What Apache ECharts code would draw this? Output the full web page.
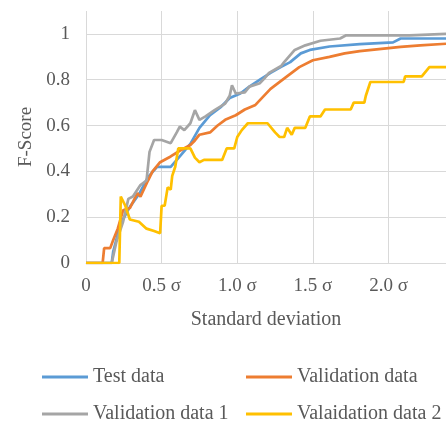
<!DOCTYPE html>
<html>
<head>
<meta charset="utf-8">
<script src="https://cdn.jsdelivr.net/npm/echarts@6/dist/echarts.min.js"></script>
<style>
  html, body { margin: 0; padding: 0; background: #fff; }
  #chart { width: 446px; height: 421px; }
</style>
</head>
<body>
<div id="chart"></div>
<script>
// [standard deviation, F-score]
var testData = [
  [0, 0], [0.17, 0], [0.18, 0.05], [0.22, 0.15], [0.245, 0.19], [0.29, 0.245], [0.35, 0.30],
  [0.41, 0.375], [0.47, 0.42], [0.56, 0.42], [0.62, 0.465], [0.69, 0.52], [0.75, 0.59],
  [0.82, 0.645], [0.89, 0.68], [0.95, 0.72], [1.02, 0.74], [1.08, 0.77], [1.15, 0.80],
  [1.22, 0.83], [1.29, 0.856], [1.35, 0.877], [1.42, 0.915], [1.48, 0.93], [1.61, 0.945],
  [1.81, 0.955], [2.03, 0.963], [2.08, 0.98], [2.38, 0.98]
];
var validData = [
  [0, 0], [0.11, 0], [0.12, 0.065], [0.16, 0.065], [0.18, 0.10], [0.21, 0.15], [0.245, 0.23],
  [0.29, 0.24], [0.34, 0.305], [0.36, 0.29], [0.41, 0.36], [0.44, 0.40], [0.49, 0.44],
  [0.56, 0.465], [0.62, 0.49], [0.69, 0.515], [0.72, 0.535], [0.75, 0.56], [0.82, 0.57],
  [0.87, 0.60], [0.92, 0.625], [0.99, 0.645], [1.05, 0.67], [1.12, 0.69], [1.17, 0.725],
  [1.22, 0.76], [1.32, 0.81], [1.41, 0.855], [1.50, 0.885], [1.61, 0.90], [1.71, 0.915],
  [1.81, 0.925], [2.08, 0.943], [2.21, 0.95], [2.38, 0.957]
];
var validData1 = [
  [0, 0], [0.17, 0], [0.20, 0.09], [0.245, 0.18], [0.28, 0.28], [0.31, 0.29], [0.36, 0.34],
  [0.40, 0.36], [0.42, 0.485], [0.45, 0.537], [0.50, 0.537], [0.56, 0.523], [0.60, 0.57],
  [0.62, 0.595], [0.65, 0.58], [0.69, 0.61], [0.72, 0.667], [0.75, 0.625], [0.79, 0.64],
  [0.85, 0.667], [0.92, 0.696], [0.95, 0.73], [0.965, 0.776], [0.99, 0.74], [1.05, 0.745],
  [1.08, 0.77], [1.15, 0.785], [1.18, 0.806], [1.21, 0.83], [1.29, 0.86], [1.31, 0.877],
  [1.38, 0.93], [1.45, 0.95], [1.55, 0.97], [1.68, 0.98], [1.72, 0.994], [2.14, 0.994],
  [2.15, 1.0], [2.38, 1.0]
];
var validData2 = [
  [0, 0], [0.22, 0], [0.23, 0.29], [0.26, 0.25], [0.29, 0.19], [0.35, 0.18], [0.40, 0.15],
  [0.45, 0.14], [0.49, 0.13], [0.50, 0.25], [0.52, 0.25], [0.54, 0.33], [0.56, 0.32],
  [0.57, 0.38], [0.59, 0.42], [0.61, 0.50], [0.69, 0.50], [0.72, 0.46], [0.75, 0.44],
  [0.78, 0.45], [0.90, 0.45], [0.93, 0.50], [0.98, 0.50], [1.00, 0.55], [1.03, 0.58],
  [1.07, 0.61], [1.20, 0.61], [1.25, 0.57], [1.28, 0.55], [1.31, 0.55], [1.33, 0.59],
  [1.36, 0.56], [1.38, 0.59], [1.45, 0.59], [1.48, 0.64], [1.55, 0.64], [1.58, 0.67],
  [1.75, 0.67], [1.77, 0.70], [1.84, 0.70], [1.85, 0.73], [1.88, 0.79], [2.10, 0.79],
  [2.11, 0.815], [2.22, 0.815], [2.27, 0.855], [2.38, 0.855]
];
var seriesNames = ['Test data', 'Validation data', 'Validation data 1', 'Valaidation data 2'];
var seriesColors = ['#5B9BD5', '#ED7D31', '#A5A5A5', '#FFC000'];

(function(){
  var myChart = echarts.init(document.getElementById('chart'));
  var font = 'Liberation Serif, Times New Roman, serif';
  var txt = '#595959';
  var allData = [testData, validData, validData1, validData2];

  // one legend per item so they sit in a 2x2 grid
  var legendPos = [[42, 367], [246, 367], [42, 404], [246, 404]];
  var legends = seriesNames.map(function (n, i) {
    return {
      data: [n],
      left: legendPos[i][0],
      top: legendPos[i][1],
      padding: 0,
      icon: 'rect',
      itemWidth: 46,
      itemHeight: 3,
      itemGap: 5,
      textStyle: { fontFamily: font, fontSize: 20, color: txt }
    };
  });

  var option = {
    animation: false,
    color: seriesColors,
    legend: legends,
    grid: { left: 86, right: 0, top: 11, bottom: 158 },
    xAxis: {
      type: 'value',
      min: 0,
      max: 2.38,
      interval: 0.5,
      name: 'Standard deviation',
      nameLocation: 'middle',
      nameGap: 47,
      nameTextStyle: { fontFamily: font, fontSize: 20, color: txt },
      axisLine: { lineStyle: { color: '#D9D9D9' } },
      axisTick: { show: false },
      splitLine: { show: true, showMaxLine: false, lineStyle: { color: '#D9D9D9' } },
      axisLabel: {
        showMaxLabel: false,
        margin: 14,
        fontFamily: font, fontSize: 19, color: txt,
        formatter: function (v) { return v === 0 ? '0' : v.toFixed(1) + ' σ'; }
      }
    },
    yAxis: {
      type: 'value',
      min: 0,
      max: 1.1,
      interval: 0.2,
      name: 'F-Score',
      nameLocation: 'middle',
      nameGap: 47,
      nameTextStyle: { fontFamily: font, fontSize: 19, color: txt },
      axisLine: { show: false },
      axisTick: { show: false },
      splitLine: { show: true, showMaxLine: false, lineStyle: { color: '#D9D9D9' } },
      axisLabel: {
        showMaxLabel: false,
        margin: 16,
        fontFamily: font, fontSize: 19, color: txt,
        formatter: function (v) { return String(Math.round(v * 10) / 10); }
      }
    },
    series: allData.map(function (d, i) {
      return {
        name: seriesNames[i],
        type: 'line',
        data: d,
        showSymbol: false,
        lineStyle: { width: 2.7, color: seriesColors[i] },
        itemStyle: { color: seriesColors[i] }
      };
    })
  };
  myChart.setOption(option);
  window.addEventListener("resize", function() {
    myChart.resize();
  });
})();
</script>
</body>
</html>
